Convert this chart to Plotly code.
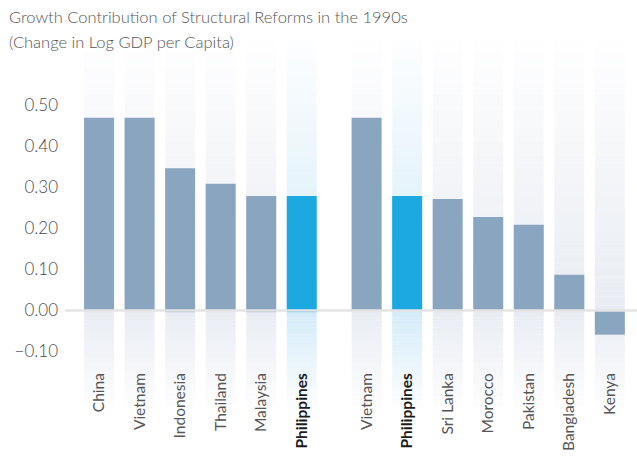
import plotly.graph_objects as go

# ---- data ----
group1 = ["China", "Vietnam", "Indonesia", "Thailand", "Malaysia", "Philippines"]
group2 = ["Vietnam", "Philippines", "Sri Lanka", "Morocco", "Pakistan", "Bangladesh", "Kenya"]
pos_values1 = [0.470, 0.470, 0.347, 0.309, 0.279, 0.279]
neg_values1 = [0.0, 0.0, -0.004, 0.0, -0.004, -0.004]
pos_values2 = [0.470, 0.279, 0.272, 0.228, 0.209, 0.087, 0.0]
neg_values2 = [0.0, 0.0, 0.0, 0.0, 0.0, 0.0, -0.059]
y_ticks = [-0.10, 0.00, 0.10, 0.20, 0.30, 0.40, 0.50]
highlight = "Philippines"
title_line1 = "Growth Contribution of Structural Reforms in the 1990s"
title_line2 = "(Change in Log GDP per Capita)"

# ---- layout helpers ----
GROUP_GAP = 1.6
BAR_W = 0.74
positions = [float(i) for i in range(len(group1))] + \
            [len(group1) - 1 + GROUP_GAP + i for i in range(len(group2))]
labels = group1 + group2
pos_values = pos_values1 + pos_values2
neg_values = neg_values1 + neg_values2
is_hl = [l == highlight for l in labels]

BAR = "#8aa5c0"
BAR_HL = "#1ca9e1"
COL = (232, 236, 242)
COL_HL = (211, 235, 248)

Y_TOP, Y_BOT = 0.684, -0.25

fig = go.Figure()

# background gradient columns built from stacked segments
N_UP, N_DN = 60, 30
for k in range(N_UP):
    b = Y_TOP * k / N_UP
    a = 1 - (k + 0.5) / N_UP
    cols = [f"rgba({c[0]},{c[1]},{c[2]},{a:.3f})" for c in [COL_HL if h else COL for h in is_hl]]
    fig.add_trace(go.Bar(x=positions, y=[Y_TOP / N_UP * 1.02] * len(labels), base=[b] * len(labels),
                         width=BAR_W, marker=dict(color=cols, line=dict(width=0)),
                         hoverinfo="skip", showlegend=False))
for k in range(N_DN):
    b = Y_BOT * k / N_DN
    a = 1 - (k + 0.5) / N_DN
    cols = [f"rgba({c[0]},{c[1]},{c[2]},{a:.3f})" for c in [COL_HL if h else COL for h in is_hl]]
    fig.add_trace(go.Bar(x=positions, y=[Y_BOT / N_DN * 1.02] * len(labels), base=[b] * len(labels),
                         width=BAR_W, marker=dict(color=cols, line=dict(width=0)),
                         hoverinfo="skip", showlegend=False))

bar_cols = [BAR_HL if h else BAR for h in is_hl]
fig.add_trace(go.Bar(x=positions, y=pos_values, width=BAR_W,
                     marker=dict(color=bar_cols, line=dict(width=0)), showlegend=False))
fig.add_trace(go.Bar(x=positions, y=neg_values, width=BAR_W,
                     marker=dict(color=bar_cols, line=dict(width=0)), showlegend=False))

fig.add_shape(type="line", xref="paper", yref="y", x0=0, x1=1, y0=0, y1=0,
              line=dict(color="#e4e4e4", width=2.5), layer="above")

ticktext = [f"<span style='color:#1a1a1a'><b>{l}</b></span>" if h else l for l, h in zip(labels, is_hl)]

W, H = 637, 457
ML, MR, MT, MB = 65, 0, 30, 44
ph = H - MT - MB
pw = W - ML - MR

title_font = dict(family="Lato", size=16.5, color="#555555", weight=300)
fig.add_annotation(text=title_line1, xref="paper", yref="paper", x=(7 - ML) / pw, y=(H - MB - 17) / ph,
                   xanchor="left", yanchor="middle", showarrow=False, font=title_font)
fig.add_annotation(text=title_line2, xref="paper", yref="paper", x=(7 - ML) / pw, y=(H - MB - 42) / ph,
                   xanchor="left", yanchor="middle", showarrow=False, font=title_font)

fig.update_layout(
    width=W, height=H,
    margin=dict(l=ML, r=MR, t=MT, b=MB, autoexpand=False),
    paper_bgcolor="white", plot_bgcolor="white",
    barmode="overlay",
    font=dict(family="Lato", color="#555555"),
    xaxis=dict(range=[-0.84, 13.27], tickvals=positions, ticktext=ticktext, tickangle=-90,
               tickfont=dict(size=15.5, color="#555555"), showgrid=False, zeroline=False,
               showline=False, ticks="", anchor="free", position=(H - MB - 369) / ph,
               automargin=False),
    yaxis=dict(range=[Y_BOT, Y_TOP], tickvals=y_ticks, tickformat=".2f",
               tickfont=dict(size=17, color="#4a4a4a", weight=300), showgrid=False, zeroline=False,
               showline=False, ticks="", ticklabelstandoff=6, automargin=False),
)

fig.write_html("out.html", config={"displayModeBar": False},
               post_script="document.body.style.margin='0px';")
